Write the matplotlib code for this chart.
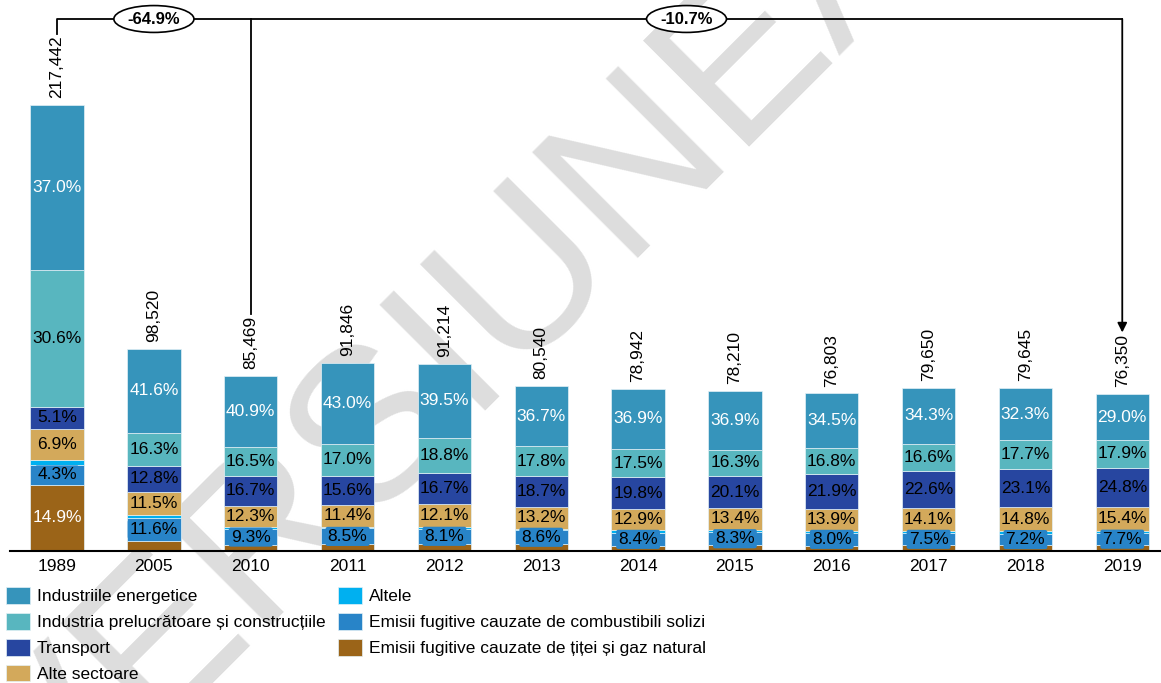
import numpy as np
import matplotlib.pyplot as plt
from matplotlib.patches import Patch

plt.rcParams['font.family'] = ['Liberation Sans', 'DejaVu Sans']

# --- data: total emissions (kt CO2 eq.) and shares (%) per sector ---
years = ['1989', '2005', '2010', '2011', '2012', '2013', '2014',
         '2015', '2016', '2017', '2018', '2019']
totals = [217442, 98520, 85469, 91846, 91214, 80540, 78942,
          78210, 76803, 79650, 79645, 76350]

# shares, bottom -> top of each bar
oil_gas   = [14.9, 4.9, 3.3, 3.5, 3.8, 4.0, 3.0, 3.5, 3.4, 3.4, 3.4, 3.7]
solid     = [4.3, 11.6, 9.3, 8.5, 8.1, 8.6, 8.4, 8.3, 8.0, 7.5, 7.2, 7.7]
altele    = [1.2, 1.3, 1.0, 1.0, 1.0, 1.0, 1.5, 1.5, 1.5, 1.5, 1.5, 1.5]
alte      = [6.9, 11.5, 12.3, 11.4, 12.1, 13.2, 12.9, 13.4, 13.9, 14.1, 14.8, 15.4]
transport = [5.1, 12.8, 16.7, 15.6, 16.7, 18.7, 19.8, 20.1, 21.9, 22.6, 23.1, 24.8]
industria = [30.6, 16.3, 16.5, 17.0, 18.8, 17.8, 17.5, 16.3, 16.8, 16.6, 17.7, 17.9]
energie   = [37.0, 41.6, 40.9, 43.0, 39.5, 36.7, 36.9, 36.9, 34.5, 34.3, 32.3, 29.0]

change_labels = ['-64.9%', '-10.7%']

names = {
    'energie': 'Industriile energetice',
    'industria': 'Industria prelucrătoare și construcțiile',
    'transport': 'Transport',
    'alte': 'Alte sectoare',
    'altele': 'Altele',
    'solid': 'Emisii fugitive cauzate de combustibili solizi',
    'oil_gas': 'Emisii fugitive cauzate de țiței și gaz natural',
}
colors = {
    'energie': '#3694bb',
    'industria': '#58b6bf',
    'transport': '#2746a0',
    'alte': '#d3a95b',
    'altele': '#00b0f0',
    'solid': '#2884c8',
    'oil_gas': '#9b6418',
}

# (key, values, label text colour or None when the segment is not labelled)
stack = [
    ('oil_gas', oil_gas, 'white'),
    ('solid', solid, 'black'),
    ('altele', altele, None),
    ('alte', alte, 'black'),
    ('transport', transport, 'black'),
    ('industria', industria, 'black'),
    ('energie', energie, 'white'),
]

W, H = 1161, 683
fig = plt.figure(figsize=(W / 100, H / 100), dpi=100)
ax = fig.add_axes([10 / W, 1 - 551 / H, 1 - 10 / W, 551 / H])
ax.set_facecolor('none')

# watermark behind the chart (starts below the lower-left corner)
fig.text(52 / W, 1 - 844 / H, 'VERSIUNEA', rotation=45, rotation_mode='anchor',
         fontsize=157, color='#dddddd', ha='left', va='baseline', zorder=-5)

x = np.arange(len(years))
tot = np.array(totals, dtype=float)
bottom = np.zeros(len(years))

for key, vals, tcol in stack:
    h = tot * np.array(vals) / 100
    ax.bar(x, h, 0.55, bottom=bottom, color=colors[key],
           edgecolor='#e4f1f6', linewidth=0.5, zorder=2)
    if tcol is not None:
        for i, v in enumerate(vals):
            if key == 'oil_gas' and i > 0:
                continue
            box = None
            if key == 'solid':
                box = dict(boxstyle='round,pad=0.12', fc=colors[key], ec='none')
            ax.text(x[i], bottom[i] + h[i] / 2, f'{v:.1f}%', ha='center',
                    va='center', fontsize=12.5, color=tcol, zorder=4, bbox=box)
    bottom += h

# totals above bars
tot_labels = []
for i, t in enumerate(totals):
    tl = ax.annotate(f'{t:,}', (x[i], t), xytext=(0, 5), textcoords='offset points',
                     rotation=90, ha='center', va='bottom', fontsize=12.5)
    tot_labels.append(tl)

ax.set_xlim(-0.486, 11.4)
ax.set_ylim(0, 268650)
ax.set_xticks(x, years)
ax.tick_params(axis='x', length=0, labelsize=12.5, pad=5.5)
ax.set_yticks([])
for s in ['left', 'right', 'top']:
    ax.spines[s].set_visible(False)
ax.spines['bottom'].set_linewidth(1.5)
ax.spines['bottom'].set_zorder(5)

# change brackets
fig.canvas.draw()
inv = ax.transData.inverted()

def top_of(i, gap_px):
    bb = tot_labels[i].get_window_extent()
    return inv.transform((0, bb.y1 + gap_px))[1]

y_br = ax.get_ylim()[1] * (1 - 19 / 551)
ax.plot([0, 0, 11], [top_of(0, 1), y_br, y_br], color='black', lw=1.3, zorder=3)
ax.plot([2, 2], [y_br, top_of(2, 2)], color='black', lw=1.3, zorder=3)
ax.annotate('', xy=(11, top_of(11, 2)), xytext=(11, y_br),
            arrowprops=dict(arrowstyle='-|>', color='black', lw=1.3,
                            mutation_scale=14, shrinkA=0, shrinkB=0))
for xm, lab in zip([1, 6.5], change_labels):
    ax.text(xm, y_br, lab, ha='center', va='center', fontsize=12,
            fontweight='bold', zorder=6,
            bbox=dict(boxstyle='ellipse,pad=0.12', fc='white', ec='black', lw=1.2))

# legend
order = ['energie', 'industria', 'transport', 'alte', 'altele', 'solid', 'oil_gas']
handles = [Patch(facecolor=colors[k], edgecolor='#e4f1f6', linewidth=0.5) for k in order]
fig.legend(handles, [names[k] for k in order], ncol=2, loc='upper left',
           bbox_to_anchor=(6 / W, 1 - 587 / H), frameon=False, fontsize=12.5,
           handlelength=1.38, handleheight=1.1, handletextpad=0.4,
           labelspacing=0.5, columnspacing=0.7, borderpad=0, borderaxespad=0)

fig.savefig('out.png', dpi=100)
